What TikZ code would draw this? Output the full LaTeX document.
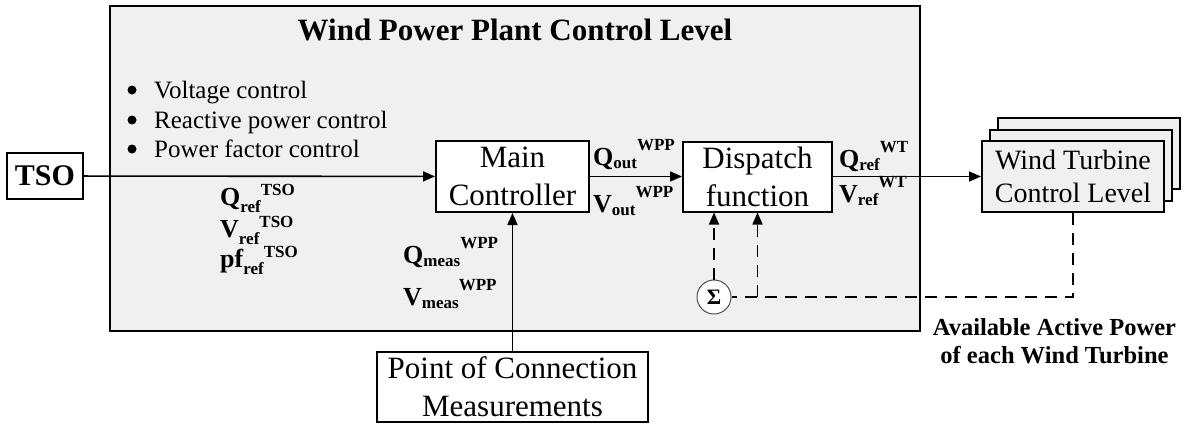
\documentclass[tikz,border=0pt]{standalone}
\usepackage{fontspec}
\setmainfont{Liberation Serif}
\usepackage{xcolor}
\definecolor{fondgris}{HTML}{F0F0F0}
\definecolor{traitsigma}{HTML}{505050}
\usepackage{tikz}
\usetikzlibrary{positioning,arrows.meta,calc}
\newlength{\subdrop}\setlength{\subdrop}{3pt}
\newlength{\supraise}\setlength{\supraise}{15pt}
\newcommand{\sig}[3]{\textbf{#1\raisebox{-\subdrop}{\fontsize{17}{17}\selectfont #2}\raisebox{\supraise}{\fontsize{17}{17}\selectfont #3}}}

\begin{document}
\begin{tikzpicture}[x=1pt,y=-1pt,
  bloc/.style={draw,line width=2pt,fill=white,inner sep=0pt,align=center,font=\fontsize{31}{38}\selectfont},
  fleche/.style={-{Triangle[length=12pt,width=10pt]},line width=1.6pt},
  tiret/.style={line width=1.6pt,dash pattern=on 12pt off 8pt},
  lbl/.style={anchor=base west,inner sep=0pt,font=\fontsize{26}{28}\selectfont},
  lbltso/.style={lbl,font=\fontsize{26}{28}\selectfont\setlength{\subdrop}{7pt}\setlength{\supraise}{10pt}}
]
\useasboundingbox (0,0) rectangle (1186,426);
% ---- niveau centrale ----
\node[draw,line width=2pt,fill=fondgris,minimum width=810pt,minimum height=325pt,inner sep=0pt] (plant) at (515,168.5) {};
\node[anchor=base,inner sep=0pt,font=\fontsize{31}{31}\selectfont\bfseries] (titre) at (515,40) {Wind Power Plant Control Level};
\foreach \y/\txt [count=\i] in {98/Voltage control,128/Reactive power control,157/Power factor control}{
  \node[anchor=base west,inner sep=0pt,font=\fontsize{25}{25}\selectfont] (fonction\i) at (154,\y) {\txt};
  \node[circle,fill,inner sep=0pt,minimum size=9pt] (puce\i) at (132,\y-8) {};
}
% ---- blocs ----
\node[bloc,font=\fontsize{30}{30}\selectfont\bfseries,minimum width=76pt,minimum height=46pt] (tso) at (45,176) {TSO};
\node[bloc,minimum width=153pt,minimum height=71pt] (main) at (512.5,176.5) {Main\\Controller};
\node[bloc,minimum width=149pt,minimum height=70pt] (dispatch) at (757.5,176.5) {Dispatch\\function};
\node[bloc,minimum width=271pt,minimum height=70pt] (poc) at (512.5,387) {Point of Connection\\Measurements};
\foreach \k in {2,1}
  \node[bloc,fill=fondgris,minimum width=182pt,minimum height=71pt] (wt\k) at ($(1073,176.5)+(8*\k,-11.5*\k)$) {};
\node[bloc,fill=fondgris,font=\fontsize{28}{33}\selectfont,minimum width=182pt,minimum height=71pt] (wt) at (1073,176.5) {Wind Turbine\\Control Level};
\node[circle,draw=traitsigma,line width=1pt,fill=white,minimum size=34pt,inner sep=0pt,font=\fontsize{22}{22}\selectfont\bfseries] (sigma) at (714,297) {Σ};
% ---- liaisons ----
\draw[fleche] (tso) -- (main);
\draw[fleche] (main) -- (dispatch);
\draw[fleche] (dispatch) -- (wt);
\draw[fleche] (poc) -- (main);
\coordinate (coin) at (wt.south |- sigma);
\coordinate (prise) at (dispatch.south |- sigma);
\draw[tiret] (wt.south) -- (coin) -- (sigma.east);
\draw[tiret,fleche] (prise) -- (dispatch.south);
\draw[tiret,fleche] (sigma) -- (sigma |- dispatch.south);
% ---- grandeurs ----
\node[lbltso] (qtso) at (220,205) {\sig{Q}{ref}{TSO}};
\node[lbltso] (vtso) at (220,237) {\sig{V}{ref}{TSO}};
\node[lbltso] (pftso) at (220,267) {\sig{pf}{ref}{TSO}};
\node[lbl] (qout) at (593,165) {\sig{Q}{out}{WPP}};
\node[lbl] (vout) at (593,212) {\sig{V}{out}{WPP}};
\node[lbl] (qwt) at (839,167) {\sig{Q}{ref}{WT}};
\node[lbl] (vwt) at (839,202) {\sig{V}{ref}{WT}};
\node[lbl] (qmeas) at (403,263) {\sig{Q}{meas}{WPP}};
\node[lbl] (vmeas) at (403,305) {\sig{V}{meas}{WPP}};
\node[anchor=base,align=center,inner sep=0pt,font=\fontsize{24.5}{28}\selectfont\bfseries] (dispo) at (1054.5,363) {Available Active Power\\of each Wind Turbine};
\end{tikzpicture}
\end{document}
